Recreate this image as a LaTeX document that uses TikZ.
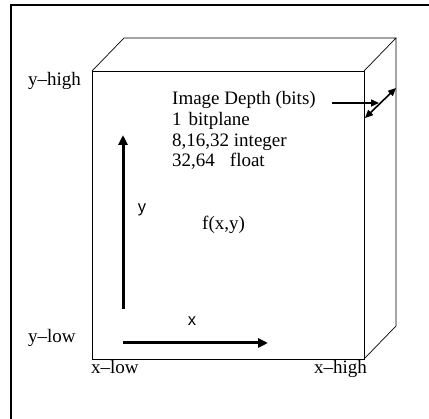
\documentclass[tikz,border=0pt]{standalone}
\usepackage{fontspec}
\setmainfont{Liberation Serif}
\newfontfamily\sansf{Liberation Sans}
\usetikzlibrary{arrows.meta}
\begin{document}
\begin{tikzpicture}[x=1pt,y=-1pt,
  lbl/.style={anchor=base west,inner sep=0pt,font=\fontsize{19}{21}\selectfont},
  slbl/.style={anchor=base,inner sep=0pt,font=\sansf\fontsize{16.5}{18}\selectfont},
  axis/.style={line width=3pt,-{Triangle[length=10pt,width=9pt]}},
  darrow/.style={line width=1.6pt,-{Triangle[length=8pt,width=7pt]}},
  ddarrow/.style={line width=1.6pt,{Triangle[length=8pt,width=7pt]}-{Triangle[length=8pt,width=7pt]}},
  edge/.style={line width=0.7pt}]
\useasboundingbox (0,0) rectangle (429,419);
% frame
\draw[line width=2pt] (11,419) -- (11,5) -- (429,5);
% box corners
\coordinate (ftl) at (92,71);
\coordinate (ftr) at (364,71);
\coordinate (fbr) at (364,359);
\coordinate (fbl) at (92,359);
\coordinate (btl) at (124,38);
\coordinate (btr) at (396,38);
\coordinate (bbr) at (396,326);
\draw[edge] (ftl) -- (ftr) -- (fbr) -- (fbl) -- cycle;
\draw[edge] (ftl) -- (btl) -- (btr) -- (ftr);
\draw[edge] (btr) -- (bbr) -- (fbr);
% labels
\node[lbl] (yh) at (28,86) {y--high};
\node[lbl] (yl) at (28,343) {y--low};
\node[lbl] (xl) at (91,374) {x--low};
\node[lbl] (xh) at (314,374) {x--high};
\node[lbl] (d1) at (172,105) {Image Depth (bits)};
\node[lbl] (d2) at (172,126) {1\hspace{7pt}bitplane};
\node[lbl] (d3) at (172,147) {8,16,32 integer};
\node[lbl] (d4) at (172,167) {32,64\hspace{15pt}float};
\node[lbl] (f) at (202,230) {f(x,y)};
\node[slbl] (ylab) at (142,213) {y};
\node[slbl] (xlab) at (192,326) {x};
% axes
\coordinate (o) at (123,343);
\coordinate (yo) at (123,309);
\coordinate (ytip) at (123,135);
\coordinate (xtip) at (268,343);
\draw[axis] (yo) -- (ytip);
\draw[axis] (o) -- (xtip);
% depth arrows
\coordinate (ds) at (332,103);
\coordinate (de) at (379,103);
\coordinate (da) at (365,118);
\coordinate (db) at (396,88);
\draw[darrow] (ds) -- (de);
\draw[ddarrow] (da) -- (db);
\end{tikzpicture}
\end{document}
